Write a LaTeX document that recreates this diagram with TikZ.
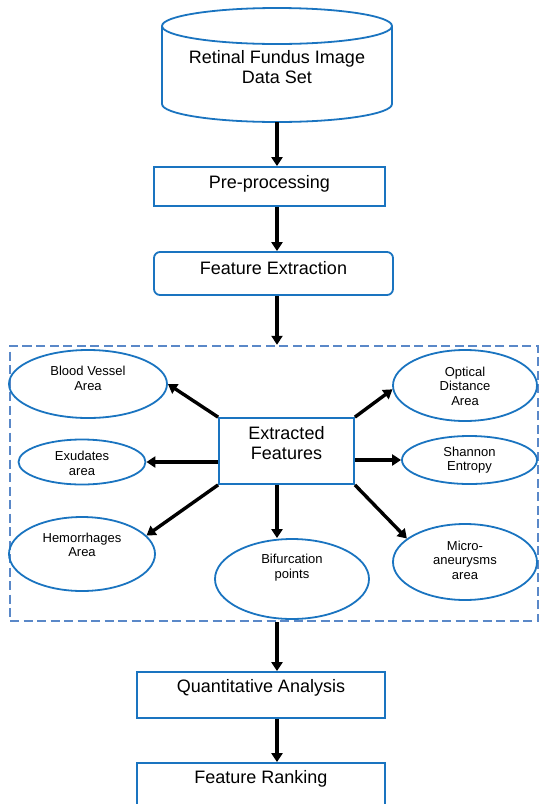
\documentclass[tikz,border=0pt]{standalone}
\usepackage{fontspec}
\setmainfont{Liberation Sans}
\usetikzlibrary{shapes.geometric,arrows.meta}
\definecolor{boxblue}{HTML}{1A74C0}
\definecolor{dashblue}{HTML}{5A88C8}
\begin{document}
\begin{tikzpicture}[x=1pt,y=-1pt,
  blueline/.style={draw=boxblue,line width=1.8pt},
  stepbox/.style={blueline,rectangle,inner sep=0pt},
  oval/.style={blueline,ellipse,inner sep=0pt},
  big/.style={font=\fontsize{18}{20}\selectfont,align=center,inner sep=0pt},
  small/.style={font=\fontsize{13}{14.5}\selectfont,align=center,inner sep=0pt},
  arr/.style={line width=3.4pt,-{Triangle[length=9pt,width=11pt]}}]
\useasboundingbox (0,0) rectangle (542,804);
\coordinate (spine) at (277,0);
% cylinder
\node[inner sep=0pt,minimum width=230pt,minimum height=114pt] (cyl) at (277,65) {};
\draw[blueline] (277,26) ellipse [x radius=115pt, y radius=18pt];
\draw[blueline] (162,26) -- (162,104) arc[start angle=180,end angle=360,x radius=115pt,y radius=18pt] -- (392,26);
\node[big] (cylt) at (277,67) {Retinal Fundus Image\\Data Set};
% flow boxes
\node[stepbox,minimum width=231pt,minimum height=39pt] (pp) at (269.5,186.5) {};
\node[big] (ppt) at (269.5,184) {Pre-processing};
\node[stepbox,rounded corners=6pt,minimum width=239pt,minimum height=43pt] (fe) at (273.5,273.5) {};
\node[big] (fet) at (273.5,268.5) {Feature Extraction};
% group
\node[draw=dashblue,line width=2.4pt,dash pattern=on 9pt off 4.5pt,rectangle,inner sep=0pt,minimum width=528pt,minimum height=275pt] (grp) at (274,483.5) {};
\node[stepbox,minimum width=135pt,minimum height=66pt] (ef) at (286.5,451) {};
\node[big] (eft) at (286.5,443) {Extracted\\Features};
% ellipses
\node[oval,minimum width=158pt,minimum height=68pt] (bv) at (88,384) {};
\node[small] (bvt) at (88,378.5) {Blood Vessel\\Area};
\node[oval,minimum width=127pt,minimum height=45pt] (ex) at (82,462) {};
\node[small] (ext) at (82,463.5) {Exudates\\area};
\node[oval,minimum width=146pt,minimum height=74pt] (hm) at (82,554) {};
\node[small] (hmt) at (82,545) {Hemorrhages\\Area};
\node[oval,minimum width=154pt,minimum height=80pt] (bf) at (292,579) {};
\node[small] (bft) at (292,567.5) {Bifurcation\\points};
\node[oval,minimum width=144pt,minimum height=71pt] (od) at (465,385.5) {};
\node[small] (odt) at (465,386) {Optical\\Distance\\Area};
\node[oval,minimum width=135pt,minimum height=48pt] (se) at (469.5,460) {};
\node[small] (set) at (469.5,460) {Shannon\\Entropy};
\node[oval,minimum width=144pt,minimum height=76pt] (ma) at (465,562) {};
\node[small] (mat) at (465,560) {Micro-\\aneurysms\\area};
% bottom boxes
\node[stepbox,minimum width=248pt,minimum height=46pt] (qa) at (261,695) {};
\node[big] (qat) at (261,688) {Quantitative Analysis};
\node[stepbox,minimum width=248pt,minimum height=60pt] (fr) at (261,793) {};
\node[big] (frt) at (261,779) {Feature Ranking};
% connectors
\draw[arr] (cyl.south -| spine) -- (pp.north -| spine);
\draw[arr] (pp.south -| spine) -- (fe.north -| spine);
\draw[arr] (fe.south -| spine) -- (grp.north -| spine);
\draw[arr] (ef.north west) -- (bv.east);
\draw[arr] (ef.west |- ex.east) -- (ex.east);
\draw[arr] (ef.south west) -- (hm.16);
\draw[arr] (ef.south -| spine) -- (bf.north -| spine);
\draw[arr] (ef.south east) -- (ma.158);
\draw[arr] (ef.east |- se.west) -- (se.west);
\draw[arr] (ef.north east) -- (od.183);
\draw[arr] (grp.south -| spine) -- (qa.north -| spine);
\draw[arr] (qa.south -| spine) -- (fr.north -| spine);
\end{tikzpicture}
\end{document}
